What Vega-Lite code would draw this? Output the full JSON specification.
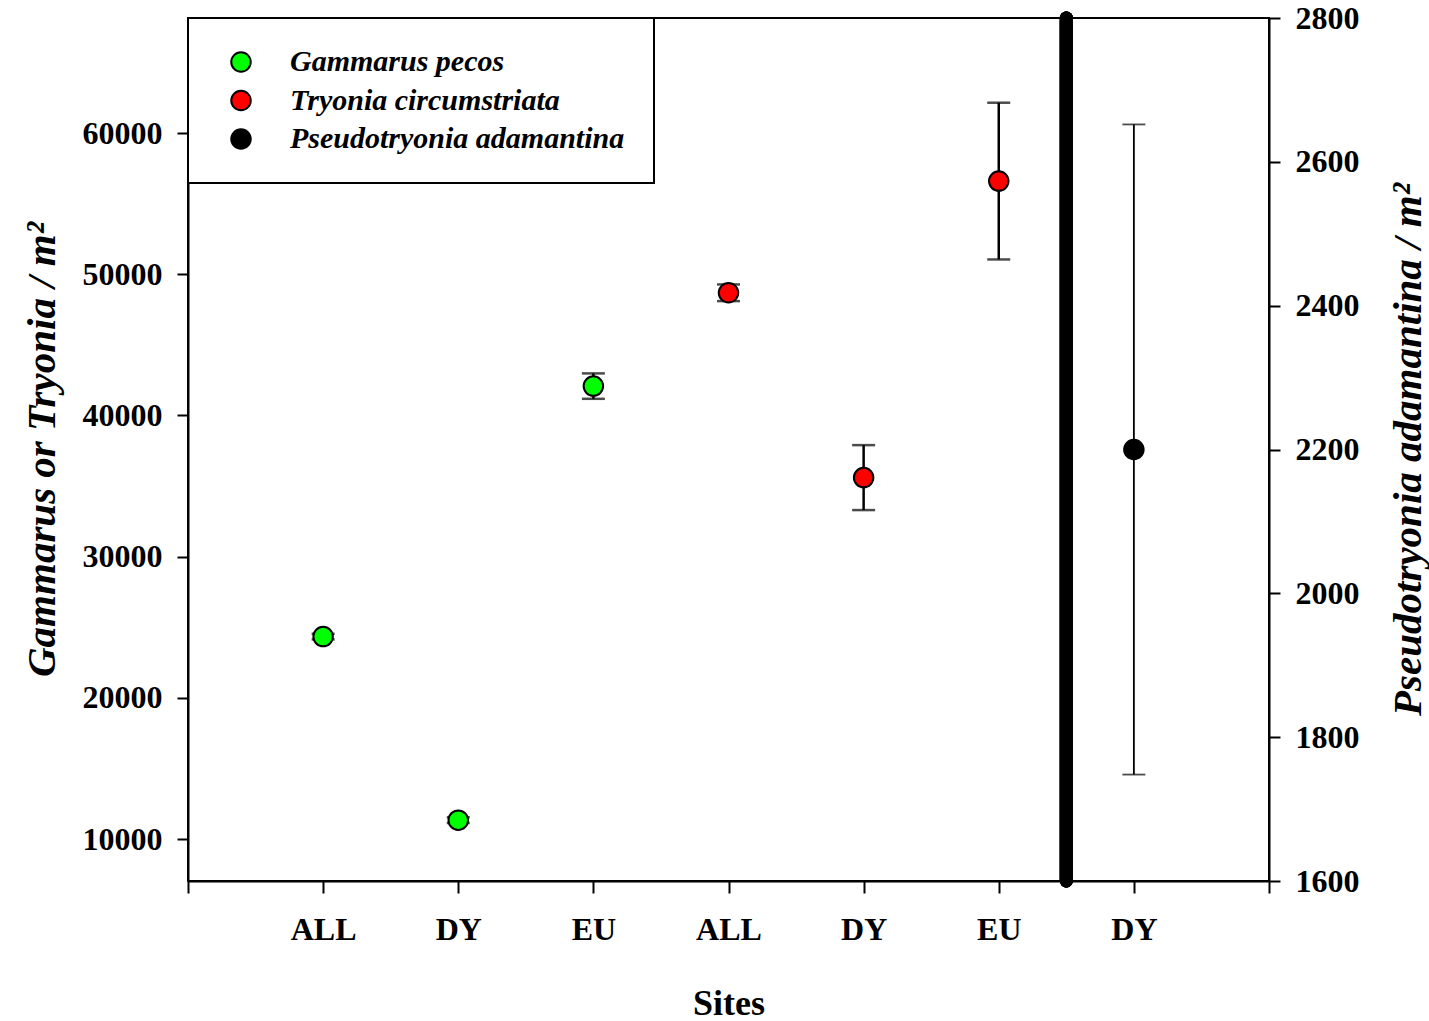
{
  "$schema": "https://vega.github.io/schema/vega-lite/v6.json",
  "width": 1081,
  "height": 863,
  "autosize": {"type": "none"},
  "padding": {"left": 188, "top": 18, "right": 160, "bottom": 140},
  "background": "white",
  "config": {
    "view": {"stroke": "black", "strokeWidth": 2},
    "font": "Liberation Serif",
    "axis": {
      "grid": false,
      "domainColor": "black",
      "domainWidth": 2,
      "tickColor": "black",
      "tickWidth": 2,
      "tickSize": 11,
      "labelFont": "Liberation Serif",
      "labelFontWeight": "bold",
      "labelFontSize": 32,
      "labelColor": "black",
      "titleFont": "Liberation Serif",
      "titleFontWeight": "bold",
      "titleFontSize": 41,
      "titleColor": "black"
    },
    "legend": {
      "padding": 29,
      "strokeColor": "black",
      "strokeWidth": 2,
      "fillColor": "white",
      "symbolType": "circle",
      "symbolSize": 380,
      "symbolStrokeColor": "black",
      "symbolStrokeWidth": 2,
      "symbolOffset": 9,
      "labelFont": "Liberation Serif",
      "labelFontSize": 30,
      "labelFontStyle": "italic",
      "labelFontWeight": "bold",
      "labelColor": "black",
      "labelOffset": 34,
      "labelLimit": 0,
      "rowPadding": 8.5
    }
  },
  "data": {
    "values": [
      {"pos": 1, "site": "ALL", "species": "Gammarus pecos", "side": "left", "density": 24340, "lo": 24140, "hi": 24540},
      {"pos": 2, "site": "DY", "species": "Gammarus pecos", "side": "left", "density": 11340, "lo": 11140, "hi": 11540},
      {"pos": 3, "site": "EU", "species": "Gammarus pecos", "side": "left", "density": 42080, "lo": 41180, "hi": 42980},
      {"pos": 4, "site": "ALL", "species": "Tryonia circumstriata", "side": "left", "density": 48690, "lo": 48100, "hi": 49280},
      {"pos": 5, "site": "DY", "species": "Tryonia circumstriata", "side": "left", "density": 35600, "lo": 33300, "hi": 37900},
      {"pos": 6, "site": "EU", "species": "Tryonia circumstriata", "side": "left", "density": 56600, "lo": 51050, "hi": 62150},
      {"pos": 7, "site": "DY", "species": "Pseudotryonia adamantina", "side": "right", "density": 2200, "lo": 1748, "hi": 2652}
    ]
  },
  "encoding": {
    "x": {
      "field": "pos",
      "type": "quantitative",
      "scale": {"domain": [0, 8], "nice": false, "zero": false},
      "axis": {
        "values": [0, 1, 2, 3, 4, 5, 6, 7, 8],
        "labelExpr": "['', 'ALL', 'DY', 'EU', 'ALL', 'DY', 'EU', 'DY', ''][datum.value]",
        "title": "Sites",
        "titleFontSize": 36,
        "labelPadding": 21,
        "titlePadding": 41,
        "tickSize": 12
      }
    }
  },
  "layer": [
    {
      "transform": [{"filter": "datum.side == 'left'"}],
      "layer": [
        {
          "mark": {"type": "rule", "color": "black", "strokeWidth": 13, "strokeCap": "round"},
          "encoding": {"x": {"datum": 6.5, "type": "quantitative", "scale": {"domain": [0, 8], "nice": false, "zero": false}, "axis": {"values": [0, 1, 2, 3, 4, 5, 6, 7, 8], "labelExpr": "['', 'ALL', 'DY', 'EU', 'ALL', 'DY', 'EU', 'DY', ''][datum.value]", "title": "Sites", "titleFontSize": 36, "labelPadding": 21, "titlePadding": 41, "tickSize": 12}}}
        },
        {
          "mark": {"type": "errorbar", "color": "black", "ticks": {"size": 23, "thickness": 2.5, "color": "black"}, "rule": {"strokeWidth": 2.5, "color": "black"}},
          "encoding": {
            "y": {
              "field": "lo",
              "type": "quantitative",
              "scale": {"domain": [7030, 68150], "nice": false, "zero": false},
              "axis": {"orient": "left", "values": [10000, 20000, 30000, 40000, 50000, 60000], "format": "d", "title": "Gammarus or Tryonia / m²", "titleFontStyle": "italic", "titleAngle": 270, "titleX": -146, "titleY": 431, "titleAlign": "center", "titleBaseline": "middle", "labelPadding": 15}
            },
            "y2": {"field": "hi"}
          }
        },
        {
          "mark": {"type": "point", "shape": "circle", "filled": true, "size": 380, "stroke": "black", "strokeWidth": 2, "opacity": 1},
          "encoding": {
            "y": {
              "field": "density",
              "type": "quantitative",
              "scale": {"domain": [7030, 68150], "nice": false, "zero": false},
              "axis": {"orient": "left", "values": [10000, 20000, 30000, 40000, 50000, 60000], "format": "d", "title": "Gammarus or Tryonia / m²", "titleFontStyle": "italic", "titleAngle": 270, "titleX": -146, "titleY": 431, "titleAlign": "center", "titleBaseline": "middle", "labelPadding": 15}
            },
            "color": {
              "field": "species",
              "type": "nominal",
              "scale": {"domain": ["Gammarus pecos", "Tryonia circumstriata", "Pseudotryonia adamantina"], "range": ["#00ff00", "#ff0000", "#000000"]},
              "legend": {"title": null, "orient": "none", "legendX": 0, "legendY": 0, "direction": "vertical"}
            }
          }
        }
      ]
    },
    {
      "transform": [{"filter": "datum.side == 'right'"}],
      "layer": [
        {
          "mark": {"type": "errorbar", "color": "black", "ticks": {"size": 23, "thickness": 1.8, "color": "black"}, "rule": {"strokeWidth": 1.8, "color": "black"}},
          "encoding": {
            "y": {
              "field": "lo",
              "type": "quantitative",
              "scale": {"domain": [1600, 2800], "nice": false, "zero": false},
              "axis": {"orient": "right", "values": [1600, 1800, 2000, 2200, 2400, 2600, 2800], "format": "d", "title": "Pseudotryonia adamantina / m²", "titleFontStyle": "italic", "titleAngle": 270, "titleX": 139, "titleY": 431, "titleAlign": "center", "titleBaseline": "middle", "labelPadding": 15}
            },
            "y2": {"field": "hi"}
          }
        },
        {
          "mark": {"type": "point", "shape": "circle", "filled": true, "size": 380, "stroke": "black", "strokeWidth": 2, "opacity": 1},
          "encoding": {
            "y": {
              "field": "density",
              "type": "quantitative",
              "scale": {"domain": [1600, 2800], "nice": false, "zero": false},
              "axis": {"orient": "right", "values": [1600, 1800, 2000, 2200, 2400, 2600, 2800], "format": "d", "title": "Pseudotryonia adamantina / m²", "titleFontStyle": "italic", "titleAngle": 270, "titleX": 139, "titleY": 431, "titleAlign": "center", "titleBaseline": "middle", "labelPadding": 15}
            },
            "color": {
              "field": "species",
              "type": "nominal",
              "scale": {"domain": ["Gammarus pecos", "Tryonia circumstriata", "Pseudotryonia adamantina"], "range": ["#00ff00", "#ff0000", "#000000"]},
              "legend": {"title": null, "orient": "none", "legendX": 0, "legendY": 0, "direction": "vertical"}
            }
          }
        }
      ]
    }
  ],
  "resolve": {"scale": {"y": "independent"}}
}
